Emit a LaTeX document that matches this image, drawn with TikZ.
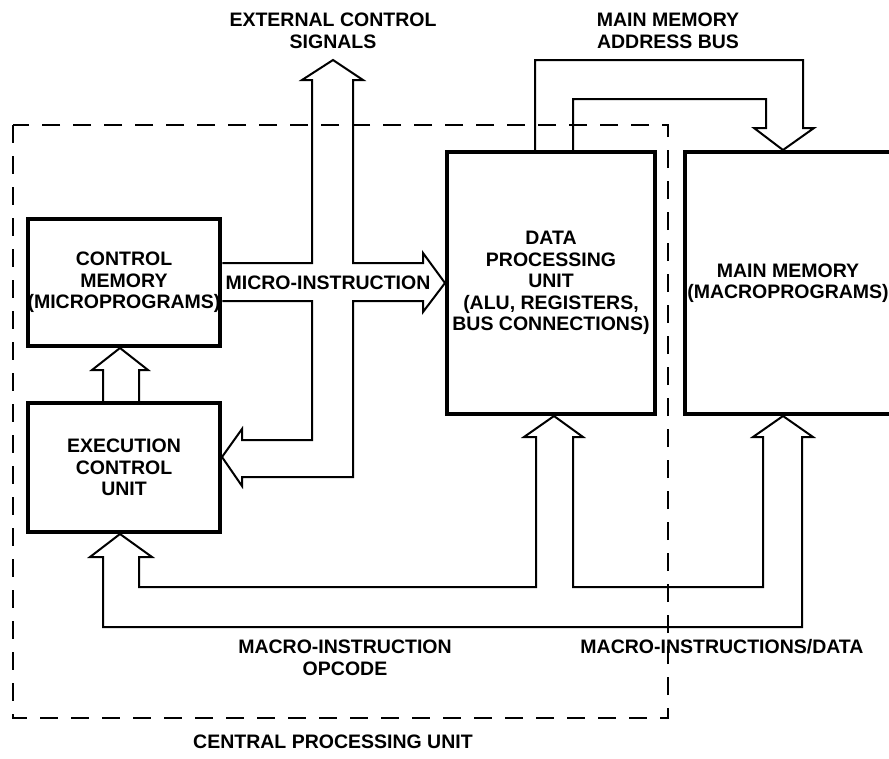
\documentclass[tikz,border=0pt]{standalone}
\usepackage{fontspec}
\setmainfont{Liberation Sans}
\usetikzlibrary{calc}
\newcommand\lblfont{\fontsize{19.5}{21.5}\selectfont\bfseries}
\begin{document}
\begin{tikzpicture}[x=1pt,y=-1pt,
  box/.style={draw,line width=4pt,outer sep=2pt,inner sep=0pt,align=center,font=\lblfont},
  bus/.style={draw,line width=2pt,line join=miter},
  lbl/.style={inner sep=0pt,align=center,font=\lblfont},
  cpu/.style={draw,line width=2pt,dash pattern=on 18pt off 13pt}]
\clip (0,0) rectangle (889,758);
\fill[white] (0,0) rectangle (889,758);
% CPU boundary
\draw[cpu] (13,125) rectangle (668,718);
% blocks
\node[box,minimum width=192pt,minimum height=127pt] (cm) at (124,282.5) {CONTROL\\MEMORY\\(MICROPROGRAMS)};
\node[box,minimum width=192pt,minimum height=129pt] (ecu) at (124,467.5) {EXECUTION\\CONTROL\\UNIT};
\node[box,minimum width=208pt,minimum height=262pt] (dpu) at (551,283) {DATA\\PROCESSING\\UNIT\\(ALU, REGISTERS,\\BUS CONNECTIONS)};
\node[box,minimum width=206pt,minimum height=262pt] (mm) at (788,283) {MAIN MEMORY\\(MACROPROGRAMS)};
% labels
\node[lbl] (ext) at (333,31) {EXTERNAL CONTROL\\SIGNALS};
\node[lbl] (mab) at (668,31) {MAIN MEMORY\\ADDRESS BUS};
\node[lbl] (mi) at (328,283) {MICRO-INSTRUCTION};
\node[lbl] (opc) at (345,658) {MACRO-INSTRUCTION\\OPCODE};
\node[lbl] (mid) at (722,647) {MACRO-INSTRUCTIONS/DATA};
\node[lbl] (cpul) at (333,742) {CENTRAL PROCESSING UNIT};
% micro-instruction / external control cross bus
\draw[bus] (cm.east |- 0,263) -- (312,263) -- (312,80) -- (302,80) -- (333,60) -- (363,80) -- (353,80)
  -- (353,263) -- (423,263) -- (423,253) -- (dpu.west) -- (423,312) -- (423,301) -- (353,301)
  -- (353,477) -- (242,477) -- (242,486) -- (ecu.east |- 0,457) -- (242,429) -- (242,440)
  -- (312,440) -- (312,301) -- (cm.east |- 0,301);
% main memory address bus
\draw[bus] (535,0 |- dpu.north) -- (535,60) -- (803,60) -- (803,128) -- (814,128) -- (783,0 |- mm.north)
  -- (754,128) -- (766,128) -- (766,99) -- (573,99) -- (573,0 |- dpu.north);
% macro-instruction / data bus
\draw[bus] (536,587) -- (536,437) -- (524,437) -- (554,0 |- dpu.south) -- (583,437) -- (573,437)
  -- (573,587) -- (763,587) -- (763,437) -- (753,437) -- (783,0 |- mm.south) -- (813,437) -- (802,437)
  -- (802,627) -- (103,627) -- (103,557) -- (90,557) -- (120,0 |- ecu.south) -- (152,557) -- (139,557)
  -- (139,587) -- cycle;
% execution control unit to control memory
\draw[bus] (103,0 |- ecu.north) -- (103,370) -- (92,370) -- (120,0 |- cm.south) -- (148,370) -- (139,370)
  -- (139,0 |- ecu.north);
\end{tikzpicture}
\end{document}
